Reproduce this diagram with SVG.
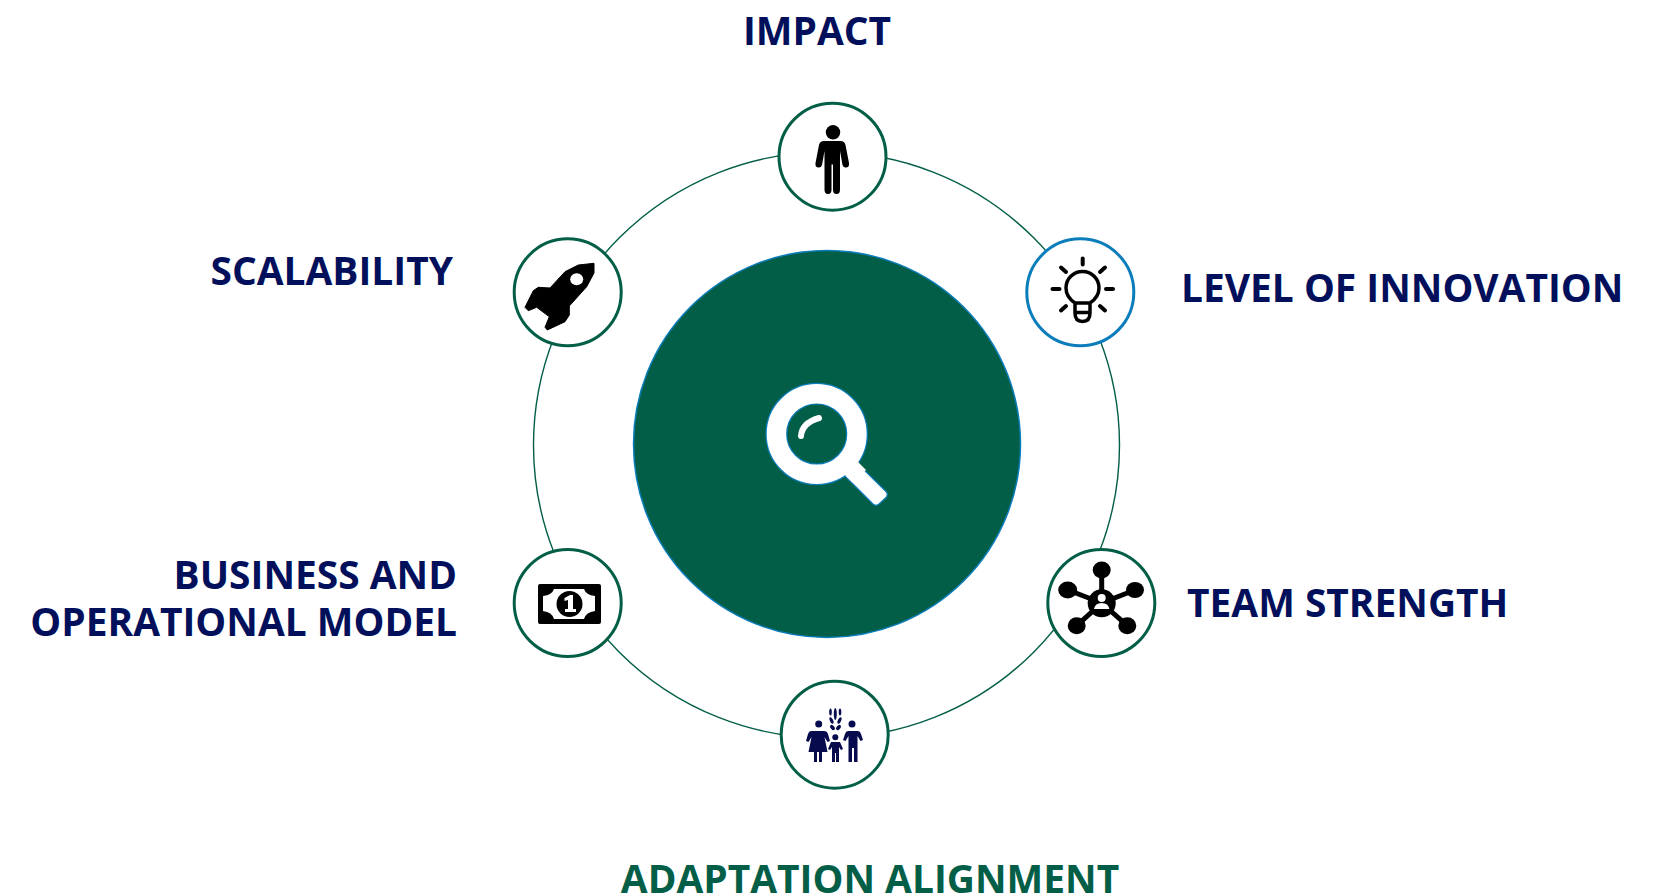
<svg xmlns="http://www.w3.org/2000/svg" width="1656" height="895" viewBox="0 0 1656 895">
<style>
.lbl{font-family:"Open Sans","Liberation Sans",sans-serif;font-weight:700;font-size:38.900px;fill:#02105c}
.n{fill:#fff;stroke:#035e47;stroke-width:3}
.wire{fill:none;stroke:#035e47;stroke-width:1.4}
</style>
<rect width="1656" height="895" fill="#fff"/>
<g id="connectors"><circle class="wire" cx="826.5" cy="445" r="293"/></g>
<g id="hub">
<circle cx="827" cy="444" r="193.5" fill="#035e47" stroke="#0b7dbb" stroke-width="1.5"/>
<path fill="#fff" stroke="#0b7dbb" stroke-width="1.2" stroke-linejoin="round" d="M856 462L886 491.500q2.500 3 0 6l-7 6.500q-3 2.500-6 0L842 473z"/>
<circle cx="816.700" cy="434" r="40.300" fill="none" stroke="#0b7dbb" stroke-width="21.800"/>
<circle cx="816.700" cy="434" r="40.300" fill="none" stroke="#fff" stroke-width="19.400"/>
<path d="M855 459L866 470L853 483L842 472z" fill="#fff"/>
<path d="M801 436q1-13 18-18" fill="none" stroke="#fff" stroke-width="6" stroke-linecap="round"/>
</g>
<g id="impact">
<circle class="n" cx="832.500" cy="156.700" r="53.500"/>
<circle cx="833" cy="132.300" r="7.200"/>
<path d="M825.500 141h15q4 0 5 4l3.500 18q.5 4-2.500 4.500t-4-2.500l-2.500-14v38.500q0 4.500-3.500 4.500t-3.500-4.500v-25h-1.500v25q0 4.500-3.500 4.500t-3.500-4.500v-38.500l-2.500 14q-1 3-4 2.500t-2.500-4.500l3.500-18q1-4 5-4z"/>
<text class="lbl" x="817" y="45" text-anchor="middle">IMPACT</text>
</g>
<g id="innovation">
<circle cx="1080.300" cy="292.300" r="53.500" fill="#fff" stroke="#0b7dbb" stroke-width="3"/>
<path d="M1075 303q-9-6-9-15a16.500 16.500 0 0 1 33 0q0 9-9 15zM1075 303v10q0 8.500 7.500 8.500t7.500-8.500v-10M1075 312.500h15" fill="none" stroke="#000" stroke-width="3.500" stroke-linejoin="round"/>
<path d="M1082.700 258.500v6M1061 267.500l5 4.500M1105 267.500l-5 4.500M1052.500 289h7M1106 289h7M1061 310.500l5-4.500M1105 310.500l-5-4.500" stroke="#000" stroke-width="4" stroke-linecap="round"/>
<text class="lbl" x="1181" y="301.500">LEVEL OF INNOVATION</text>
</g>
<g id="team">
<circle class="n" cx="1101.300" cy="603" r="53.500"/>
<g stroke="#000" stroke-width="5"><path d="M1101.700 603V570M1101.700 603L1068 590M1101.700 603L1135 590M1101.700 603L1076.700 625.700M1101.700 603L1127.300 625.700"/></g>
<ellipse cx="1101.700" cy="570" rx="9" ry="8.500"/><ellipse cx="1067.700" cy="590" rx="9.500" ry="8.500"/><ellipse cx="1135" cy="590" rx="9" ry="8"/><ellipse cx="1076.700" cy="625.700" rx="9" ry="8.500"/><ellipse cx="1127.300" cy="625.700" rx="9" ry="8.500"/>
<circle cx="1101.700" cy="603.300" r="14"/>
<circle cx="1101.700" cy="598" r="4" fill="#fff"/><path d="M1094 609q1-6 7.700-6t7.700 6z" fill="#fff"/>
<text class="lbl" x="1187" y="616.500">TEAM STRENGTH</text>
</g>
<g id="adaptation">
<circle class="n" cx="834.700" cy="734.700" r="53.500"/>
<g fill="#050b4c">
<circle cx="818.700" cy="724" r="3.500"/><path d="M813 731h11q3 0 4 3l2 7-2.500 1-3-5 3 15h-5.500v10h-3v-10h-2v10h-3v-10h-5.500l3-15-3 5-2.500-1 2-7q1-3 3-3z"/>
<circle cx="852" cy="724" r="3.500"/><path d="M846 731h12q2 0 3 3l2 6-2.500 1-3-5v26h-3.500v-14h-2v14h-3.500v-26l-3 5-2.500-1 2-6q1-3 3-3z"/>
<circle cx="835.300" cy="737.300" r="3"/><path d="M831 742h9l3 7-2 1-2-3v15h-3v-9h-1v9h-3v-15l-2 3-2-1z"/>
<ellipse cx="835.300" cy="714" rx="1.500" ry="6"/>
<ellipse cx="830.500" cy="712" rx="1.300" ry="3.500"/><ellipse cx="840" cy="712" rx="1.300" ry="3.500"/>
<ellipse cx="831.500" cy="720.500" rx="1.600" ry="3.500" transform="rotate(-25 831.500 720.500)"/><ellipse cx="839.500" cy="720.500" rx="1.600" ry="3.500" transform="rotate(25 839.500 720.500)"/>
<ellipse cx="832.500" cy="727.500" rx="1.800" ry="3" transform="rotate(-40 832.500 727.500)"/><ellipse cx="838.500" cy="727.500" rx="1.800" ry="3" transform="rotate(40 838.500 727.500)"/>
</g>
<text x="870" y="893" text-anchor="middle" class="lbl" style="fill:#035e47">ADAPTATION ALIGNMENT</text>
</g>
<g id="business">
<circle class="n" cx="567.700" cy="603" r="53.500"/>
<path fill-rule="evenodd" d="M540 584h59q2 0 2 2v36q0 2-2 2h-59q-2 0-2-2v-36q0-2 2-2zM554 589q-2 6-11 7v15q9 1 11 8h30q2-7 11-8v-15q-9-1-11-7z"/>
<circle cx="569.500" cy="604" r="13"/>
<path d="M564.500 598l5.500-3h3v14h3v3h-11v-3h3v-9l-3.500 1z" fill="#fff"/>
<text class="lbl" x="457" y="588.500" text-anchor="end">BUSINESS AND</text>
<text class="lbl" x="457" y="635.500" text-anchor="end">OPERATIONAL MODEL</text>
</g>
<g id="scalability">
<circle class="n" cx="567.700" cy="292.300" r="53.500"/>
<path d="M594 263.300v9.700l-7.300 13.700-17.400 19.300v9l-4.300 6.700-17.700 8.300-2.300-2.700 4.300-10.600-12.600-9.400-8.400 3.400-3.300-3.400 8.300-16.600 5-3.400 11.700.7 15-16.300 13.300-6.700z" stroke="#000" stroke-width="1" stroke-linejoin="round"/>
<ellipse cx="576.700" cy="279.300" rx="6.500" ry="6" fill="#fff"/>
<text class="lbl" x="453" y="284.500" text-anchor="end">SCALABILITY</text>
</g>
</svg>
